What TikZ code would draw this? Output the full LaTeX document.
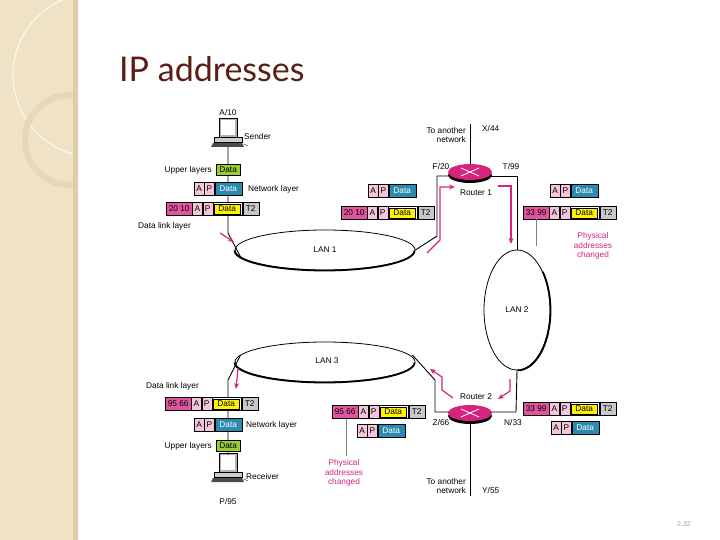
\documentclass[tikz,border=0pt]{standalone}
\usepackage{fontspec}
\setmainfont{Liberation Sans}
\newfontfamily\titlefont{Lato}
\usetikzlibrary{shapes.geometric,arrows.meta,calc}
\definecolor{addr}{HTML}{E0559E}
\definecolor{lpink}{HTML}{F4C6DC}
\definecolor{teal}{HTML}{2A8AAF}
\definecolor{lime}{HTML}{9ACD32}
\definecolor{tgray}{HTML}{C8C8C8}
\definecolor{mag}{HTML}{D6247E}
\definecolor{side}{HTML}{F0E2C4}
\definecolor{sidedark}{HTML}{D9C7A0}
\definecolor{titlec}{HTML}{5A1E14}
\tikzset{
  lbl/.style={font=\fontsize{8.3}{9.5}\selectfont, inner sep=0pt},
  maglbl/.style={lbl, text=mag, align=center},
  cell/.style={draw=black, line width=0.3pt, inner sep=0pt, minimum height=13pt, font=\fontsize{8.3}{9}\selectfont, anchor=west},
  link/.style={line width=0.9pt},
  marr/.style={draw=mag, line width=1.2pt, -{Stealth[length=6pt,width=5pt]}},
  lan/.style={ellipse, draw, line width=0.8pt, inner sep=0pt},
}
\newcommand{\myframe}[4]{%
  \node[cell, fill=addr, minimum width=26pt] (#1a) at (#2,#3) {#4};
  \node[cell, fill=white, minimum width=50pt] (#1w) at ($(#1a.east)$) {};
  \node[cell, fill=lpink, minimum width=10pt] (#1A) at (#1a.east) {A};
  \node[cell, fill=lpink, minimum width=10pt] (#1P) at (#1A.east) {P};
  \node[cell, fill=yellow, minimum width=26pt, minimum height=10pt, line width=0.6pt] (#1d) at ([xshift=1pt]#1P.east) {Data};
  \node[cell, fill=tgray, minimum width=16pt] (#1t) at (#1w.east) {T2};
}
\newcommand{\mypkt}[3]{%
  \node[cell, fill=lpink, minimum width=10pt] (#1A) at (#2,#3) {A};
  \node[cell, fill=lpink, minimum width=10pt] (#1P) at (#1A.east) {P};
  \node[cell, fill=teal, minimum width=27pt, text=white] (#1d) at (#1P.east) {Data};
}
\newcommand{\mycomp}[3]{%
  \begin{scope}[shift={(#2,#3)}]
    \fill[gray!60] (-9,-17) rectangle (9,2);
    \fill[white] (-7,-15) rectangle (7,0);
    \draw[line width=0.4pt] (-9,-17) rectangle (9,2);
    \fill[gray!40] (-14,2) rectangle (14,7);
    \draw[line width=0.4pt] (-14,2) rectangle (14,7);
    \fill[black!70] (-15,8) -- (14,8) -- (16,12) -- (-17,12) -- cycle;
    \draw (16,9) to[out=0,in=180] (20,11);
    \coordinate (#1) at (0,0);
  \end{scope}
}
\newcommand{\myrouter}[3]{%
  \fill[black] (#2,#3+3) ellipse[x radius=22pt, y radius=8pt];
  \fill[mag] (#2,#3) ellipse[x radius=22pt, y radius=8pt];
  \draw[white, line width=0.8pt] (#2-9,#3-4) -- (#2+9,#3+4) (#2-9,#3+4) -- (#2+9,#3-4);
  \coordinate (#1) at (#2,#3);
}
\begin{document}
\begin{tikzpicture}[x=1pt,y=-1pt]
\useasboundingbox (0,0) rectangle (720,540);
\fill[white] (0,0) rectangle (720,540);
\begin{scope}
\clip (0,0) rectangle (78,540);
\fill[side] (0,0) rectangle (78,540);
\draw[white!70!side, line width=1.2pt] (95,75) circle[radius=82pt];
\draw[sidedark!40!side, line width=6pt] (70,140) circle[radius=45pt];
\fill[sidedark!80!side] (73,0) rectangle (78,540);
\end{scope}
\node[font=\titlefont\fontsize{34}{36}\selectfont, text=titlec, anchor=base west, inner sep=0pt] (title) at (119,82) {IP addresses};
\node[font=\fontsize{7}{8}\selectfont, text=gray!70, anchor=east, inner sep=0pt] (page) at (691,524) {2.32};

\node[lan, minimum width=180pt, minimum height=40pt] (lan1) at (325,250) {};
\node[lan, minimum width=180pt, minimum height=40pt] (lan3) at (325,362) {};
\node[lan, minimum width=66pt, minimum height=120pt] (lan2) at (517,310) {};
\draw[line width=1.8pt] ([yshift=-0.5pt]lan1.west) arc[start angle=180,end angle=360,x radius=90pt,y radius=20pt];
\draw[line width=1.8pt] ([yshift=-0.5pt]lan3.west) arc[start angle=180,end angle=360,x radius=90pt,y radius=20pt];
\draw[line width=1.8pt] ([xshift=0.5pt]lan2.south) arc[start angle=270,end angle=400,x radius=33pt,y radius=60pt];
\node[lbl] (l1) at (325,250) {LAN 1};
\node[lbl] (l2) at (517,310) {LAN 2};
\node[lbl] (l3) at (327,361) {LAN 3};

\myrouter{r1}{470}{172}
\myrouter{r2}{470}{413}
\node[lbl] (r1l) at (476,193) {Router 1};
\node[lbl] (r2l) at (476,397) {Router 2};
\node[lbl] (f20) at (441,167) {F/20};
\node[lbl] (t99) at (511,167) {T/99};
\node[lbl] (z66) at (441,423) {Z/66};
\node[lbl] (n33) at (513,423) {N/33};
\node[lbl, align=right, anchor=east] (ta1) at (466,135) {To another\\network};
\node[lbl, anchor=west] (x44) at (482,129) {X/44};
\node[lbl, align=right, anchor=east] (ta2) at (466,486) {To another\\network};
\node[lbl, anchor=west] (y55) at (482,491) {Y/55};
\draw[link] (r1) ++(0,-8) -- (470,124);
\draw[link] (r2) ++(0,11) -- (470,496);
\draw[link] (449,176) -- (437,176) -- (437,236) -- (lan1.east);
\draw[link] (491,176) -- (517,176) -- (lan2.north);
\draw[link] (449,412) -- (435,412) -- (435,380) -- ([xshift=-3pt,yshift=7pt]lan3.east);
\draw[link] (491,412) -- (516,412) -- (lan2.south);

\mycomp{snd}{228}{135}
\node[lbl] (a10) at (228,113) {A/10};
\node[lbl, anchor=west] (sl) at (244,137) {Sender};
\draw[link] (228,147) -- (228,233) -- ([xshift=6pt,yshift=-7pt]lan1.west);
\node[cell, fill=lime, minimum width=24pt, minimum height=11pt] (up1) at (216,170) {Data};
\node[lbl, anchor=east] (up1l) at (212,170) {Upper layers};
\mypkt{n1}{194}{189}
\node[lbl, anchor=west] (n1l) at (248,189) {Network layer};
\myframe{f1}{166}{209}{20 10}
\node[lbl, anchor=west] (dl1) at (138,226) {Data link layer};
\draw[marr] (220,233) -- (234,242);

\mycomp{rcv}{228}{470}
\node[lbl] (p95) at (228,502) {P/95};
\node[lbl, anchor=west] (rl) at (246,477) {Receiver};
\draw[link] ([xshift=6pt,yshift=7pt]lan3.west) -- (228,380) -- (228,455);
\myframe{f3}{165}{404}{95 66}
\node[lbl, anchor=west] (dl3) at (146,386) {Data link layer};
\mypkt{n3}{194}{425}
\node[lbl, anchor=west] (n3l) at (246,425) {Network layer};
\node[cell, fill=lime, minimum width=24pt, minimum height=11pt] (up3) at (216,446) {Data};
\node[lbl, anchor=east] (up3l) at (212,446) {Upper layers};
\draw[marr] (238,368) -- (236,389);

\mypkt{p1}{368}{191}
\myframe{f2}{341}{213}{20 10}
\mypkt{p2}{550}{191}
\myframe{f4}{523}{213}{33 99}
\draw[line width=0.4pt, gray] (536,219.5) -- (536,246);
\node[maglbl] (pc1) at (593,246) {Physical\\addresses\\changed};
\draw[marr] (427,253) -- (440,240) -- (440,187) -- (455,187);
\draw[marr] (498,186) -- (511,186) -- (511,244);

\myframe{f5}{332}{412}{95 66}
\mypkt{p3}{357}{431}
\myframe{f6}{523}{409}{33 99}
\mypkt{p4}{551}{428}
\draw[line width=0.4pt, gray] (346,418.5) -- (346,456);
\node[maglbl] (pc2) at (344,473) {Physical\\addresses\\changed};
\draw[marr] (453,398) -- (442,390) -- (442,377) -- (430,369);
\draw[marr] (510,379) -- (510,391) -- (498,399);
\end{tikzpicture}
\end{document}
